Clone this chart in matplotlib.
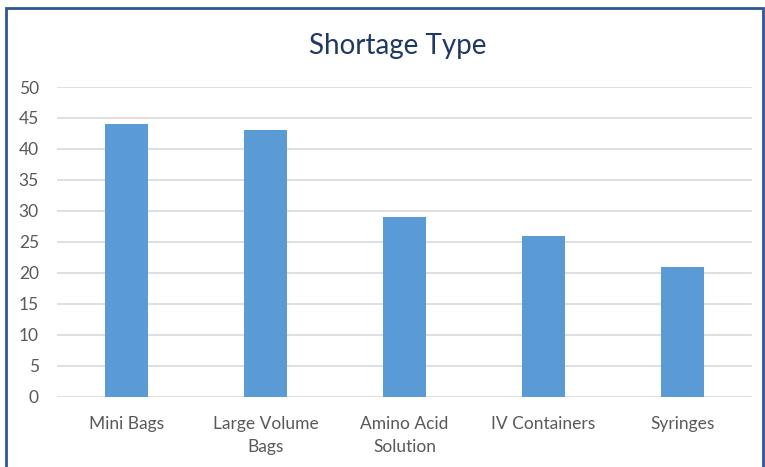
import matplotlib
matplotlib.use("Agg")
import matplotlib.pyplot as plt
from matplotlib.patches import Rectangle

# --- data ---
categories = ['Mini Bags', 'Large Volume\nBags', 'Amino Acid\nSolution', 'IV Containers', 'Syringes']
values = [44, 43, 29, 26, 21]
y_ticks = [0, 5, 10, 15, 20, 25, 30, 35, 40, 45, 50]

plt.rcParams['font.family'] = ['Lato', 'DejaVu Sans']

fig = plt.figure(figsize=(7.65, 4.67), dpi=100)
ax = fig.add_axes([0.0745, 0.150, 0.9085, 0.6637])

x = range(len(categories))
ax.bar(x, values, width=0.31, color='#5B9BD5', zorder=3)

ax.set_xlim(-0.5, len(categories) - 0.5)
ax.set_ylim(0, 50)
ax.set_yticks(y_ticks)
ax.set_xticks(list(x))
ax.set_xticklabels(categories, fontsize=12.5, color='#595959', linespacing=1.5)
ax.tick_params(axis='y', labelsize=12.5, labelcolor='#595959', length=0, pad=13)
ax.tick_params(axis='x', length=0, pad=14)
ax.grid(axis='y', color='#D9D9D9', linewidth=1.2, zorder=0)
for s in ax.spines.values():
    s.set_visible(False)

fig.text(0.52, 0.902, 'Shortage Type', ha='center', va='center',
         fontsize=20, color='#1F3864')

# frame around the chart
fig.patches.append(Rectangle((6 / 765, -0.01), (763 - 6) / 765, 1 - 8 / 467 + 0.01,
                             transform=fig.transFigure, fill=False,
                             edgecolor='#2F5597', linewidth=2))

fig.savefig('out.png', dpi=100)
